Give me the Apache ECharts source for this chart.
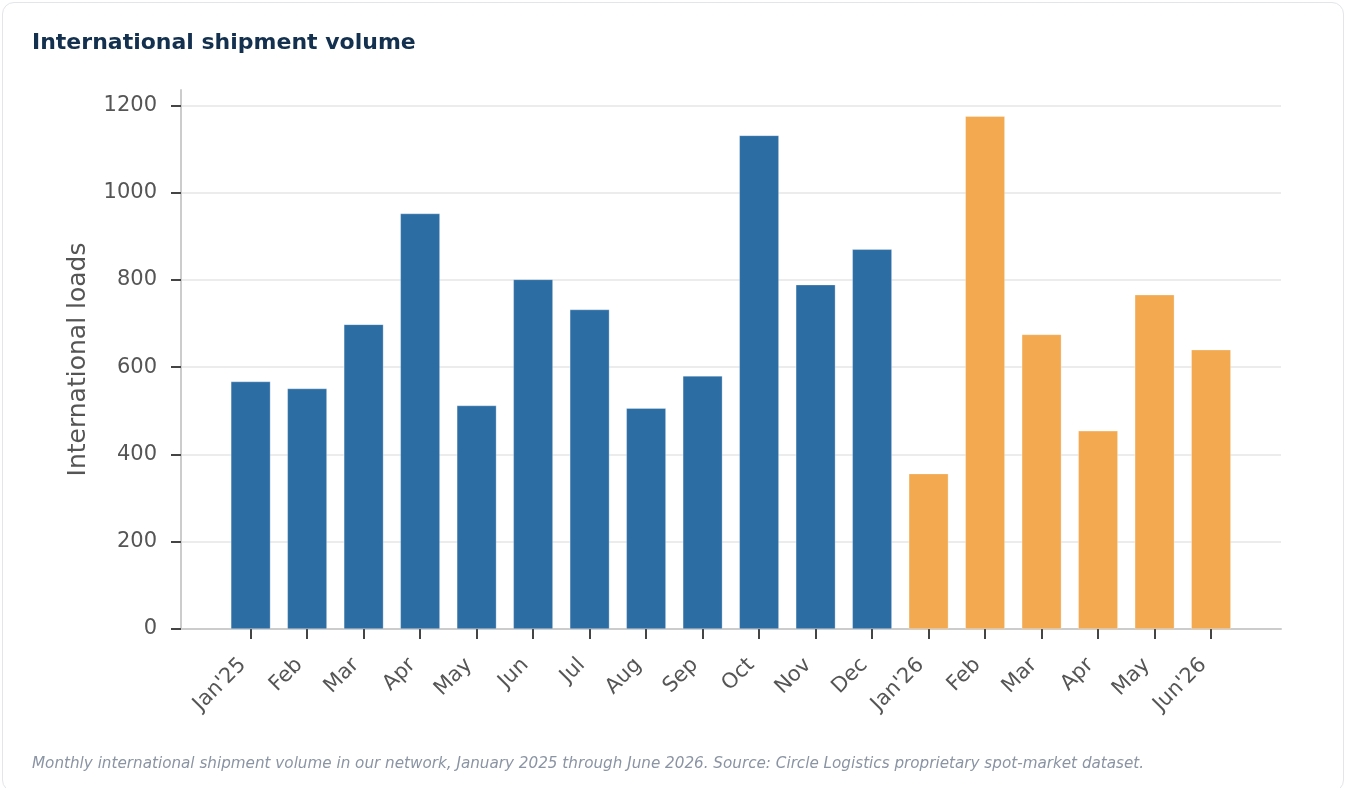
<!DOCTYPE html>
<html><head><meta charset="utf-8">
<script src="https://cdn.jsdelivr.net/npm/echarts@6/dist/echarts.min.js"></script>
<style>
html,body{margin:0;padding:0;background:#fff;}
#card{position:absolute;left:2px;top:2px;width:1342px;height:790px;border:1.5px solid #e3e5e8;border-radius:12px;box-sizing:border-box;}
#chart{position:absolute;left:0;top:0;width:1345px;height:788px;}
</style></head>
<body>
<div id="card"></div>
<div id="chart"></div>
<script>
const categories = ["Jan'25","Feb","Mar","Apr","May","Jun","Jul","Aug","Sep","Oct","Nov","Dec","Jan'26","Feb","Mar","Apr","May","Jun'26"];
const values = [567, 551, 698, 952, 512, 801, 732, 506, 580, 1131, 789, 870, 356, 1175, 675, 454, 766, 640];
const isForecast = [0,0,0,0,0,0,0,0,0,0,0,0,1,1,1,1,1,1];
const yTicks = [0, 200, 400, 600, 800, 1000, 1200];
const colors = ['#2c6da4', '#f2a950'];

const FONT = 'DejaVu Sans';
const chart = echarts.init(document.getElementById('chart'), null, {renderer:'canvas'});
const yMax = yTicks[yTicks.length-1];
const plotTop = 105.3, plotBottom = 159;
chart.setOption({
  animation:false,
  backgroundColor:'transparent',
  title:{text:'International shipment volume', left:32, top:32, padding:0,
    textStyle:{fontFamily:FONT, fontSize:22, fontWeight:'bold', color:'#13304f'}},
  graphic:[{type:'text', left:32, top:757, style:{text:'Monthly international shipment volume in our network, January 2025 through June 2026. Source: Circle Logistics proprietary spot-market dataset.', fontFamily:FONT, fontSize:15.2, fontStyle:'italic', fill:'#8a94a3'}}],
  grid:[
    {left:181, right:64, top:90, bottom:plotBottom},
    {left:181, right:64, top:plotTop, bottom:plotBottom},
    {left:222.4, right:105.7, top:plotTop, bottom:plotBottom}
  ],
  xAxis:[
    {gridIndex:0, type:'value', min:0, max:1, axisLine:{show:true, lineStyle:{color:'#cccccc', width:2}}, axisTick:{show:false}, axisLabel:{show:false}, splitLine:{show:false}},
    {gridIndex:1, type:'value', min:0, max:1, show:false},
    {gridIndex:2, type:'category', data:categories,
      axisLine:{show:false},
      axisTick:{show:true, alignWithLabel:true, length:10, lineStyle:{color:'#444', width:2}},
      axisLabel:{rotate:45, margin:25, padding:[0,11,0,0], fontFamily:FONT, fontSize:21, color:'#555', interval:0}}
  ],
  yAxis:[
    {gridIndex:0, type:'value', min:0, max:1, axisLine:{show:true, lineStyle:{color:'#cccccc', width:2}}, axisTick:{show:false}, axisLabel:{show:false}, splitLine:{show:false},
      name:'International loads', nameLocation:'middle', nameGap:90,
      nameTextStyle:{fontFamily:FONT, fontSize:25, color:'#555'}},
    {gridIndex:1, type:'value', min:yTicks[0], max:yMax, interval:200,
      axisLine:{show:false},
      axisTick:{show:true, length:10, lineStyle:{color:'#444', width:2}},
      axisLabel:{margin:24, fontFamily:FONT, fontSize:21, color:'#555', formatter:(v)=>String(v)},
      splitLine:{show:true, lineStyle:{color:'#ececec', width:2}}},
    {gridIndex:2, type:'value', min:0, max:yMax, show:false}
  ],
  series:[{
    type:'bar', xAxisIndex:2, yAxisIndex:2, barWidth:'70%',
    data: values.map((v,i)=>({value:v, itemStyle:{color:colors[isForecast[i]]}})),
    itemStyle:{borderColor:'rgba(255,255,255,0.6)', borderWidth:0.5}
  }]
});
</script>
</body></html>
